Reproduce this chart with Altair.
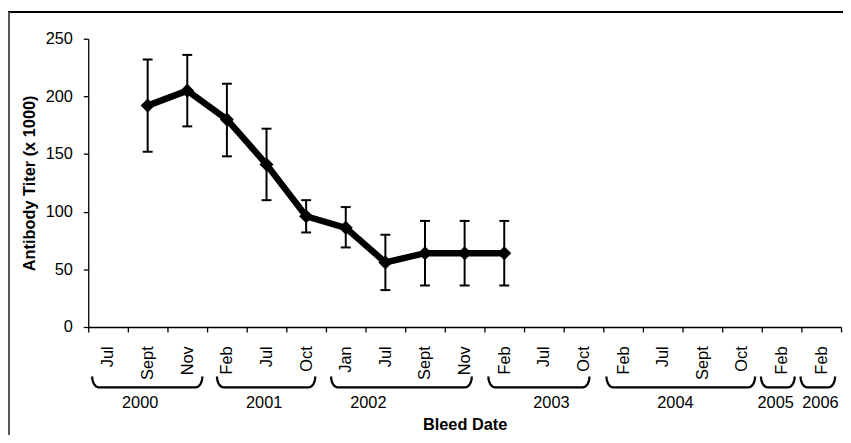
import altair as alt
import pandas as pd
import numpy as np

# ---------------- data ----------------
months = ["Jul", "Sept", "Nov", "Feb", "Jul", "Oct", "Jan", "Jul", "Sept", "Nov",
          "Feb", "Jul", "Oct", "Feb", "Jul", "Sept", "Oct", "Feb", "Feb"]
month_years = [2000, 2000, 2000, 2001, 2001, 2001, 2002, 2002, 2002, 2002,
               2003, 2003, 2003, 2004, 2004, 2004, 2004, 2005, 2006]
categories = [f"{m} {y}" for m, y in zip(months, month_years)]

measured = ["Sept 2000", "Nov 2000", "Feb 2001", "Jul 2001", "Oct 2001",
            "Jan 2002", "Jul 2002", "Sept 2002", "Nov 2002", "Feb 2003"]
titer = [192, 205, 180, 141, 96, 86, 56, 64, 64, 64]
titer_low = [152, 174, 148, 110, 82, 69, 32, 36, 36, 36]
titer_high = [232, 236, 211, 172, 110, 104, 80, 92, 92, 92]

# year brackets (in category-index units along the x axis)
years = ["2000", "2001", "2002", "2003", "2004", "2005", "2006"]
bracket_start = [0.10, 3.25, 6.13, 10.10, 13.08, 16.98, 17.98]
bracket_end = [2.88, 5.73, 9.68, 12.65, 16.83, 17.83, 18.85]
year_label_pos = [1.31, 4.44, 7.07, 11.69, 14.82, 17.35, 18.48]

y_ticks = [0, 50, 100, 150, 200, 250]

# ---------------- tables ----------------
df = pd.DataFrame({"cat": measured, "titer": titer, "lo": titer_low, "hi": titer_high})

rows = []
rx = 0.17
t = np.linspace(0, np.pi / 2, 10)
for yr, s, e in zip(years, bracket_start, bracket_end):
    pts = [(s + rx * (1 - np.cos(a)), 1 - np.sin(a)) for a in t]
    pts += [(e - rx * (1 - np.cos(a)), 1 - np.sin(a)) for a in t[::-1]]
    for i, (px, pv) in enumerate(pts):
        rows.append({"year": yr, "i": i, "bx": px, "bv": pv})
brackets_df = pd.DataFrame(rows)
year_df = pd.DataFrame({"year": years, "bx": year_label_pos})

FONT = "Liberation Sans"
W, H = 760, 291
FS = 16.5

xenc = alt.X("cat:N", bandPosition=0.5,
             scale=alt.Scale(type="band", domain=categories, paddingInner=0, paddingOuter=0),
             axis=alt.Axis(title="Bleed Date", labelAngle=-90, labelAlign="right",
                           labelBaseline="middle",
                           labelExpr="isValid(datum.value) ? split(datum.value, ' ')[0] : ''",
                           tickBand="extent", tickSize=5, labelPadding=14,
                           labelOverlap=False, labelFontSize=FS, labelColor="black",
                           domainColor="black", tickColor="black", domainWidth=1.3,
                           tickWidth=1.3, grid=False,
                           titleFontSize=FS, titleFontWeight="bold", titleColor="black",
                           titleX=W / 2, titleY=98, titleBaseline="middle"))
yscale = alt.Scale(domain=[0, 250], nice=False)
yaxis = alt.Axis(title="Antibody Titer (x 1000)", values=y_ticks, tickSize=5,
                 labelPadding=11, labelFontSize=FS, labelColor="black",
                 domainColor="black", tickColor="black", domainWidth=1.3, tickWidth=1.3,
                 grid=False, titleFontSize=FS, titleFontWeight="bold",
                 titleColor="black", titleX=-59, titleY=H / 2, titleAngle=-90,
                 titleAlign="center", titleBaseline="middle")

base = alt.Chart(df)
line = base.mark_line(color="black", strokeWidth=6.5).encode(
    x=xenc, y=alt.Y("titer:Q", scale=yscale, axis=yaxis))
rule = base.mark_rule(color="black", strokeWidth=2).encode(
    x=xenc, y=alt.Y("lo:Q", scale=yscale, axis=yaxis), y2="hi:Q")
cap_lo = base.mark_tick(color="black", size=10, thickness=2, opacity=1).encode(
    x=xenc, y=alt.Y("lo:Q", scale=yscale, axis=yaxis))
cap_hi = base.mark_tick(color="black", size=10, thickness=2, opacity=1).encode(
    x=xenc, y=alt.Y("hi:Q", scale=yscale, axis=yaxis))
pts = base.mark_point(shape="diamond", filled=True, color="black", size=200, opacity=1).encode(
    x=xenc, y=alt.Y("titer:Q", scale=yscale, axis=yaxis))
main = alt.layer(line, rule, cap_lo, cap_hi, pts)

bx_scale = alt.Scale(domain=[0, 19], nice=False, zero=False)
bracket_lines = alt.Chart(brackets_df).mark_line(color="black", strokeWidth=2.3).encode(
    x=alt.X("bx:Q", scale=bx_scale, axis=None),
    y=alt.Y("bv:Q", scale=alt.Scale(domain=[0, 1], range=[352, 341], nice=False, zero=False),
            axis=None),
    detail="year:N",
    order="i:Q")
year_text = alt.Chart(year_df).mark_text(font=FONT, fontSize=FS, color="black",
                                         baseline="middle", align="center").encode(
    x=alt.X("bx:Q", scale=bx_scale, axis=None),
    y=alt.value(368),
    text="year:N")
brackets = alt.layer(bracket_lines, year_text)

frame_top = alt.Chart(df).mark_rule(color="black", strokeWidth=1.3).encode(
    x=alt.value(-81), x2=alt.value(W + 2), y=alt.value(-27))
frame_left = alt.Chart(df).mark_rule(color="#555555", strokeWidth=1.6).encode(
    x=alt.value(-80.5), y=alt.value(-27), y2=alt.value(H + 120))
frame = alt.layer(frame_top, frame_left)

chart = alt.layer(main, brackets, frame).resolve_scale(
    x="independent", y="independent"
).properties(
    width=W, height=H,
    padding={"left": 81, "top": 29, "right": 2, "bottom": 107},
    autosize=alt.AutoSizeParams(type="none"),
).configure(font=FONT).configure_view(strokeWidth=0)

chart.save("out.html", embed_options={"renderer": "svg", "actions": False})
